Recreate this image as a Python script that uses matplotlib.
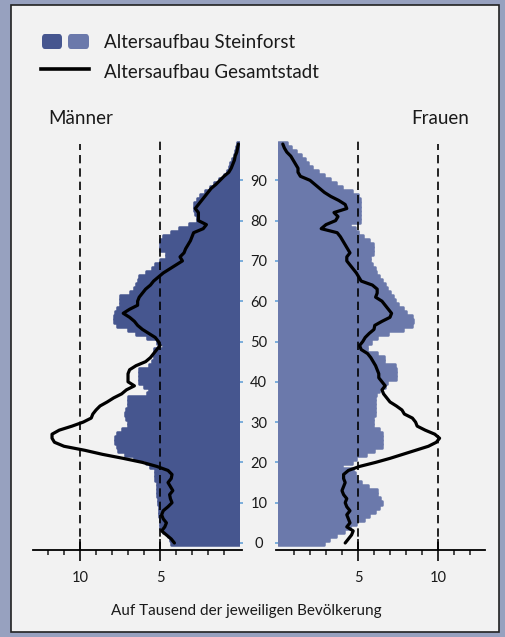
import numpy as np
import matplotlib
matplotlib.use("Agg")
import matplotlib.pyplot as plt
from matplotlib.patches import Rectangle, FancyBboxPatch
from matplotlib.lines import Line2D

plt.rcParams['font.family'] = ['Lato', 'DejaVu Sans']

# Alter 0..99
alter = np.arange(100)

# Steinforst, Männer (Promille)
maenner_stf = [4.3, 4.4, 4.5, 4.8, 5.0, 5.0, 5.0, 5.05, 5.05, 5.05,
               5.1, 5.1, 5.2, 5.2, 5.2, 5.2, 5.3, 5.3, 5.3, 5.6,
               5.9, 6.6, 7.2, 7.6, 7.7, 7.8, 7.8, 7.7, 7.4, 7.0,
               7.0, 7.1, 7.2, 7.1, 7.0, 7.0, 7.0, 5.8, 5.7, 6.0,
               6.3, 6.3, 6.3, 6.3, 5.7, 5.5, 5.4, 5.4, 5.4, 4.8,
               5.2, 5.8, 6.5, 7.0, 7.7, 7.9, 7.9, 7.8, 7.7, 7.5,
               7.5, 7.5, 6.9, 6.6, 6.5, 6.4, 6.3, 5.9, 5.5, 5.3,
               5.0, 4.6, 4.6, 5.0, 5.0, 5.0, 4.8, 4.3, 3.8, 3.2,
               2.7, 2.7, 2.8, 2.9, 2.9, 2.7, 2.5, 2.2, 1.9, 1.6,
               1.3, 1.0, 0.8, 0.7, 0.6, 0.5, 0.4, 0.3, 0.25, 0.2]

# Steinforst, Frauen
frauen_stf = [2.9, 3.2, 3.6, 4.1, 4.5, 4.9, 5.4, 5.7, 6.05, 6.3,
              6.5, 6.4, 6.2, 6.2, 5.6, 5.2, 4.9, 4.8, 4.7, 4.0,
              4.6, 4.9, 5.5, 6.0, 6.5, 6.5, 6.5, 6.5, 6.3, 5.95,
              5.95, 5.95, 6.05, 6.05, 6.05, 6.05, 6.05, 6.1, 6.3, 6.7,
              6.8, 7.4, 7.4, 7.4, 7.3, 6.6, 6.6, 6.2, 5.55, 5.55,
              5.8, 6.2, 6.9, 7.8, 8.4, 8.45, 8.4, 8.0, 7.8, 7.5,
              7.3, 7.2, 7.0, 6.8, 6.7, 6.5, 6.3, 6.1, 6.05, 5.9,
              5.75, 5.75, 5.95, 5.95, 5.95, 5.7, 5.3, 5.0, 4.8, 4.5,
              5.1, 5.1, 5.1, 5.1, 5.1, 5.1, 5.0, 4.6, 4.0, 3.6,
              3.25, 2.9, 2.5, 2.1, 1.9, 1.7, 1.45, 1.1, 0.8, 0.55]

# Gesamtstadt, Männer
maenner_ges = [4.1, 4.3, 4.6, 4.9, 4.7, 4.6, 4.8, 4.9, 4.8, 4.5,
               4.25, 4.35, 4.4, 4.2, 4.35, 4.5, 4.3, 4.25, 4.5, 5.2,
               6.1, 7.3, 8.6, 9.7, 11.0, 11.6, 11.75, 11.75, 11.3, 10.5,
               9.8, 9.3, 9.2, 9.0, 8.75, 8.3, 7.9, 7.4, 7.1, 6.6,
               7.0, 7.0, 7.0, 6.9, 6.5, 5.9, 5.6, 5.4, 5.2, 5.0,
               5.1, 5.3, 5.7, 6.1, 6.4, 6.6, 6.9, 7.3, 6.9, 6.4,
               6.4, 6.3, 6.1, 5.9, 5.6, 5.4, 5.1, 4.8, 4.4, 4.0,
               3.6, 3.75, 3.5, 3.4, 3.25, 3.1, 3.0, 2.9, 2.3, 2.1,
               2.6, 2.6, 2.6, 2.8, 2.6, 2.4, 2.2, 2.0, 1.8, 1.5,
               1.25, 1.0, 0.7, 0.55, 0.45, 0.35, 0.3, 0.2, 0.15, 0.1]

# Gesamtstadt, Frauen
frauen_ges = [4.2, 4.4, 4.6, 4.7, 4.3, 4.5, 4.4, 4.3, 4.5, 4.3,
              4.2, 4.3, 4.1, 4.0, 4.1, 4.2, 4.1, 4.1, 4.4, 5.1,
              6.1, 7.0, 7.8, 8.6, 9.4, 9.9, 10.1, 9.8, 9.2, 8.7,
              8.6, 8.4, 7.9, 7.75, 7.4, 7.0, 6.8, 6.6, 6.5, 6.7,
              6.5, 6.3, 6.3, 6.2, 6.1, 5.95, 5.8, 5.6, 5.2, 5.1,
              5.3, 5.45, 5.7, 6.0, 6.05, 6.5, 7.0, 7.1, 6.9, 6.7,
              6.5, 6.1, 6.2, 6.2, 5.9, 5.2, 5.05, 4.9, 4.7, 4.5,
              4.3, 4.3, 4.5, 4.35, 4.2, 4.05, 3.9, 3.7, 2.7, 3.0,
              3.6, 3.75, 3.5, 4.3, 4.2, 3.8, 3.3, 2.9, 2.6, 2.3,
              2.0, 1.4, 1.25, 1.25, 1.1, 0.95, 0.8, 0.55, 0.4, 0.3]

alter_ticks = list(range(0, 100, 10))
x_major = [5, 10]
x_minor = list(range(1, 13))

c_m = '#46568f'
c_f = '#6b79ab'
bg = '#f2f2f2'
txt = '#1a1a1a'
W, H = 505, 637


def fx(x):
    return x / W


def fy(y):
    return 1 - y / H


fig = plt.figure(figsize=(W / 100, H / 100), dpi=100, facecolor='#97a1bf')
fig.add_artist(Rectangle((fx(11), fy(632)), fx(499) - fx(11), fy(5) - fy(632),
                         transform=fig.transFigure, facecolor=bg,
                         edgecolor='#222222', lw=1.2, zorder=0))

ybot, ytop = 550, 138
ylim = (-1.74, 100.5)
axL = fig.add_axes([fx(33), fy(ybot), fx(240) - fx(33), fy(ytop) - fy(ybot)])
axR = fig.add_axes([fx(278), fy(ybot), fx(485) - fx(278), fy(ytop) - fy(ybot)])

for ax, werte, linie, col in [(axL, maenner_stf, maenner_ges, c_m),
                              (axR, frauen_stf, frauen_ges, c_f)]:
    ax.set_facecolor('none')
    ax.barh(alter, werte, height=1.0, color=col, edgecolor=col, lw=1.8,
            joinstyle='round', zorder=2)
    ax.plot(linie, alter, color='black', lw=2.3, zorder=4,
            solid_joinstyle='round', solid_capstyle='round')
    for v in x_major:
        ax.axvline(v, ymax=1.0 if v == 5 else 0.985, color='black', lw=1.2,
                   ls=(0, (5, 3)), zorder=3)
    ax.set_xlim(0, 12.94)
    ax.set_ylim(*ylim)
    for s in ['top', 'left', 'right']:
        ax.spines[s].set_visible(False)
    ax.spines['bottom'].set_linewidth(1.3)
    ax.set_xticks(x_major)
    ax.set_xticks(x_minor, minor=True)
    ax.set_xticklabels([str(v) for v in x_major])
    ax.tick_params(axis='x', which='major', direction='inout', length=16,
                   width=1.3, pad=7, labelsize=10.5, colors=txt)
    ax.tick_params(axis='x', which='minor', direction='out', length=3.5,
                   width=1.1, colors=txt)
    ax.set_yticks(alter_ticks)

axL.invert_xaxis()
axL.spines['bottom'].set_bounds(12.94, -0.15)
axL.yaxis.tick_right()
axL.tick_params(axis='y', direction='out', length=2.5, width=1.1,
                color='#5b9bd5', pad=11, labelsize=10.5, labelcolor=txt)
for t in axL.get_yticklabels():
    t.set_horizontalalignment('center')
axR.tick_params(axis='y', direction='out', length=2.5, width=1.1,
                color='#5b9bd5', labelleft=False)
axR.spines['bottom'].set_bounds(-0.12, 12.94)

# Legende
fig.add_artist(FancyBboxPatch((fx(42), fy(49)), fx(62) - fx(42), fy(34) - fy(49),
                              boxstyle='round,pad=0,rounding_size=0.006',
                              transform=fig.transFigure, facecolor=c_m, edgecolor='none'))
fig.add_artist(FancyBboxPatch((fx(68), fy(49)), fx(89) - fx(68), fy(34) - fy(49),
                              boxstyle='round,pad=0,rounding_size=0.006',
                              transform=fig.transFigure, facecolor=c_f, edgecolor='none'))
fig.add_artist(Line2D([fx(41), fx(89)], [fy(69), fy(69)], color='black', lw=2.6,
                      transform=fig.transFigure))
fig.text(fx(104), fy(42), 'Altersaufbau Steinforst', fontsize=13.5, va='center',
         color=txt)
fig.text(fx(104), fy(72), 'Altersaufbau Gesamtstadt', fontsize=13.5, va='center',
         color=txt)
fig.text(fx(48), fy(118), 'Männer', fontsize=13.5, va='center', color=txt)
fig.text(fx(469), fy(118), 'Frauen', fontsize=13.5, va='center', ha='right',
         color=txt)
fig.text(fx(246), fy(611), 'Auf Tausend der jeweiligen Bevölkerung', fontsize=11,
         va='center', ha='center', color=txt)

fig.savefig('out.png', dpi=100, facecolor=fig.get_facecolor())
